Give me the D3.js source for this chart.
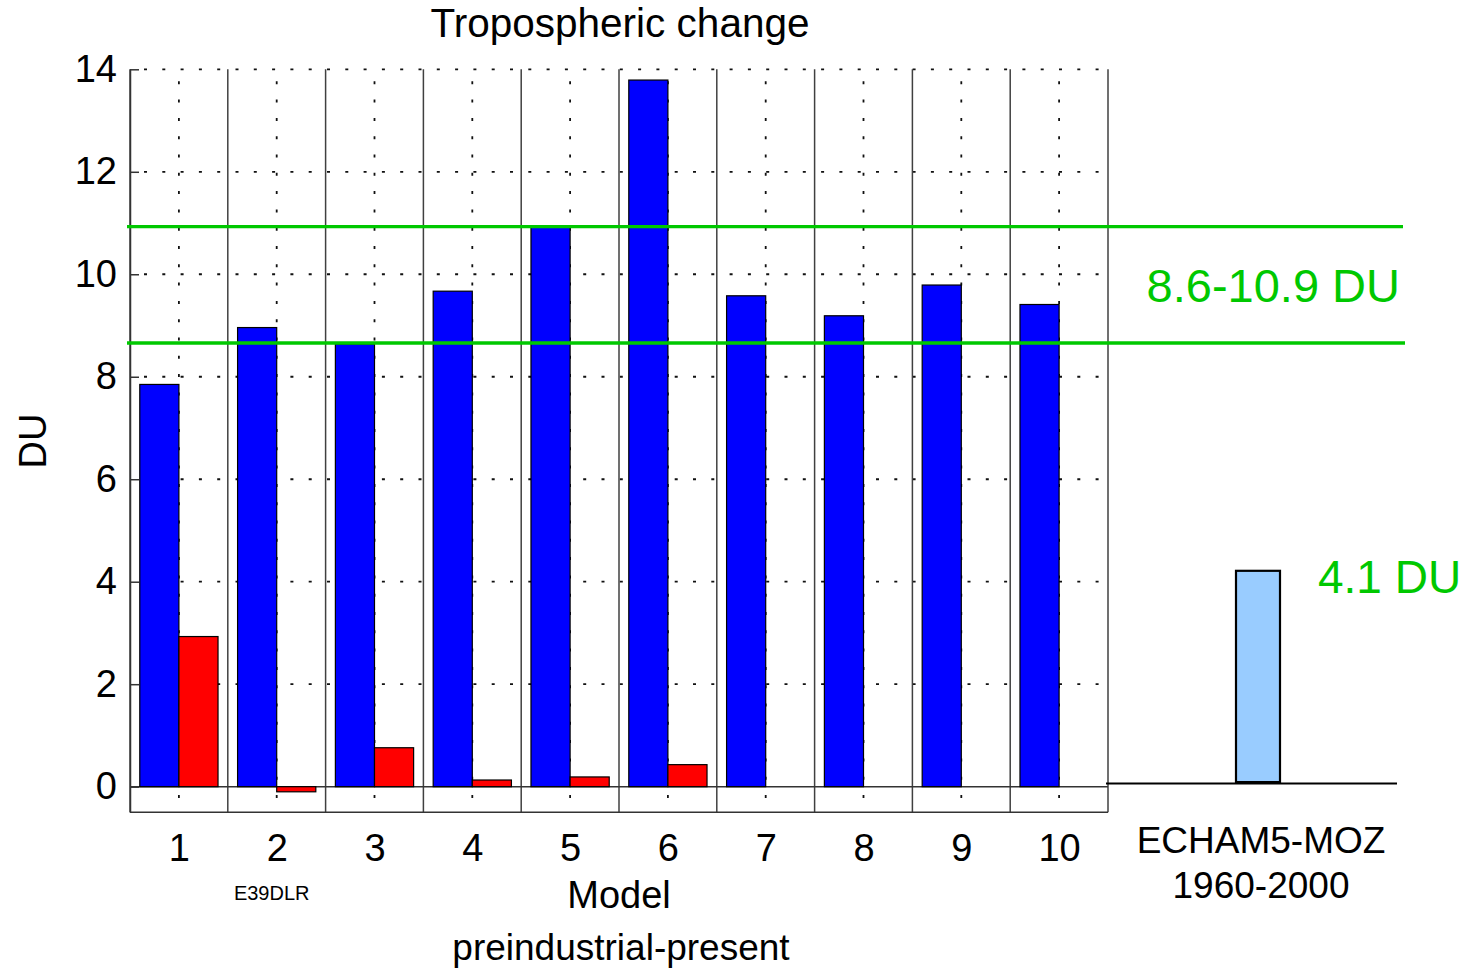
<!DOCTYPE html>
<html>
<head>
<meta charset="utf-8">
<script src="https://cdn.jsdelivr.net/npm/d3@7"></script>
<style>
  html, body { margin: 0; padding: 0; background: #fff; }
  svg { display: block; font-family: "Liberation Sans", Arial, Helvetica, sans-serif; }
</style>
</head>
<body>
<svg id="chart" width="1470" height="969"></svg>
<script>
// ---- data ----
const models = [1, 2, 3, 4, 5, 6, 7, 8, 9, 10];
const preindustrialPresent = [7.85, 8.96, 8.64, 9.67, 10.92, 13.79, 9.58, 9.19, 9.79, 9.41];
const secondSeries = [2.93, -0.1, 0.76, 0.13, 0.19, 0.43, 0, 0, 0, 0];
const rangeLines = [8.66, 10.93];
const rangeLabel = "8.6-10.9 DU";
const echamCategories = ["ECHAM5-MOZ"];
const echamValues = [4.1];
const echamLabel = "4.1 DU";
const yTicks = [0, 2, 4, 6, 8, 10, 12, 14];
const specialLabelModel = 2;
const specialLabel = "E39DLR";

// ---- layout ----
const svg = d3.select("#chart");
const x = d3.scaleLinear().domain([0.5, 10.5]).range([130, 1108]);
const y = d3.scaleLinear().domain([-0.5, 14]).range([812.3, 69.3]);
const barW = 0.4;
const green = "#00c800";

svg.append("rect").attr("width", 1470).attr("height", 969).attr("fill", "#fff");

// dotted grid
const grid = svg.append("g").attr("stroke", "#111").attr("stroke-width", 1.8)
  .attr("stroke-dasharray", "3,15.3");
grid.selectAll("line.h").data(yTicks.filter(d => d !== 0)).join("line")
  .attr("class", "h")
  .attr("x1", x(0.5)).attr("x2", x(10.5))
  .attr("y1", d => y(d)).attr("y2", d => y(d))
  .attr("stroke-dashoffset", -14);
grid.selectAll("line.v").data(models).join("line")
  .attr("class", "v")
  .attr("x1", d => x(d)).attr("x2", d => x(d))
  .attr("y1", y(14)).attr("y2", y(-0.5))
  .attr("stroke-dashoffset", -12);

// separators between models
const seps = d3.range(0.5, 11, 1);
svg.append("g").selectAll("line").data(seps).join("line")
  .attr("x1", d => x(d)).attr("x2", d => x(d))
  .attr("y1", y(14)).attr("y2", y(-0.5))
  .attr("stroke", "#404040").attr("stroke-width", 1.5);

// zero line and bottom line
svg.append("line").attr("x1", x(0.5)).attr("x2", x(10.5))
  .attr("y1", y(0)).attr("y2", y(0)).attr("stroke", "#333").attr("stroke-width", 1.5);
svg.append("line").attr("x1", x(0.5)).attr("x2", x(10.5))
  .attr("y1", y(-0.5)).attr("y2", y(-0.5)).attr("stroke", "#333").attr("stroke-width", 1.5);

// bars
svg.append("g").selectAll("rect").data(models).join("rect")
  .attr("x", (d) => x(d - barW))
  .attr("width", (d) => x(d) - x(d - barW))
  .attr("y", (d, i) => y(Math.max(0, preindustrialPresent[i])))
  .attr("height", (d, i) => Math.abs(y(preindustrialPresent[i]) - y(0)))
  .attr("fill", "#0000ff").attr("stroke", "#000").attr("stroke-width", 1.2);

svg.append("g").selectAll("rect").data(models.filter((d, i) => secondSeries[i] !== 0)).join("rect")
  .attr("x", (d) => x(d))
  .attr("width", (d) => x(d + barW) - x(d))
  .attr("y", (d) => y(Math.max(0, secondSeries[d - 1])))
  .attr("height", (d) => Math.abs(y(secondSeries[d - 1]) - y(0)))
  .attr("fill", "#ff0000").attr("stroke", "#000").attr("stroke-width", 1.2);

// y axis
const yAxis = d3.axisLeft(y).tickValues(yTicks).tickSizeInner(-9).tickSizeOuter(0).tickPadding(13);
const gy = svg.append("g").attr("transform", `translate(${x(0.5)},0)`).call(yAxis);
gy.select(".domain").attr("stroke", "#333").attr("stroke-width", 1.5);
gy.selectAll(".tick line").attr("stroke", "#333").attr("stroke-width", 1.5);
gy.selectAll(".tick text").attr("font-size", 38).attr("font-family", "Liberation Sans, Arial, sans-serif").attr("fill", "#000");

// x axis
const xAxis = d3.axisBottom(x).tickValues(models).tickSize(0).tickFormat(d3.format("d"));
const gx = svg.append("g").attr("transform", `translate(0,${y(-0.5)})`).call(xAxis);
gx.select(".domain").remove();
gx.selectAll(".tick text").attr("font-size", 38).attr("font-family", "Liberation Sans, Arial, sans-serif")
  .attr("fill", "#000").attr("dy", null).attr("y", 49);

// range lines
svg.append("g").selectAll("line").data(rangeLines).join("line")
  .attr("x1", 127).attr("x2", (d, i) => i === 0 ? 1405 : 1403)
  .attr("y1", d => y(d)).attr("y2", d => y(d))
  .attr("stroke", green).attr("stroke-width", 3.4);
svg.append("text").attr("x", 1400).attr("y", 302).attr("text-anchor", "end")
  .attr("font-size", 47).attr("fill", green).text(rangeLabel);

// right panel (ECHAM5-MOZ)
const xR = d3.scaleBand().domain(echamCategories).range([1214, 1302]).paddingInner(0).paddingOuter(0.5);
const yR = d3.scaleLinear().domain([0, 14]).range([783.6, 783.6 - 14 * 51.9]);
svg.append("line").attr("x1", 1106).attr("x2", 1397).attr("y1", yR(0)).attr("y2", yR(0))
  .attr("stroke", "#000").attr("stroke-width", 2);
svg.append("g").selectAll("rect").data(echamCategories).join("rect")
  .attr("x", d => xR(d)).attr("width", xR.bandwidth())
  .attr("y", (d, i) => yR(echamValues[i]))
  .attr("height", (d, i) => yR(0) - yR(echamValues[i]) - 1.5)
  .attr("fill", "#99ccff").attr("stroke", "#000").attr("stroke-width", 2.2);
svg.append("text").attr("x", 1318).attr("y", 593).attr("font-size", 46).attr("fill", green).text(echamLabel);
svg.append("text").attr("x", 1261).attr("y", 853).attr("text-anchor", "middle")
  .attr("font-size", 37).attr("fill", "#000").text(echamCategories[0]);
svg.append("text").attr("x", 1261).attr("y", 898).attr("text-anchor", "middle")
  .attr("font-size", 37).attr("fill", "#000").text("1960-2000");

// titles and labels
svg.append("text").attr("x", 620).attr("y", 37).attr("text-anchor", "middle")
  .attr("font-size", 40.5).attr("fill", "#000").text("Tropospheric change");
svg.append("text").attr("x", 619).attr("y", 908).attr("text-anchor", "middle")
  .attr("font-size", 38).attr("fill", "#000").text("Model");
svg.append("text").attr("x", 621).attr("y", 960).attr("text-anchor", "middle")
  .attr("font-size", 37).attr("fill", "#000").text("preindustrial-present");
svg.append("text").attr("x", x(specialLabelModel) - 5).attr("y", 900).attr("text-anchor", "middle")
  .attr("font-size", 20).attr("fill", "#000").text(specialLabel);
svg.append("text").attr("transform", "translate(45.5,441) rotate(-90)").attr("text-anchor", "middle")
  .attr("font-size", 38).attr("fill", "#000").text("DU");
</script>
</body>
</html>
